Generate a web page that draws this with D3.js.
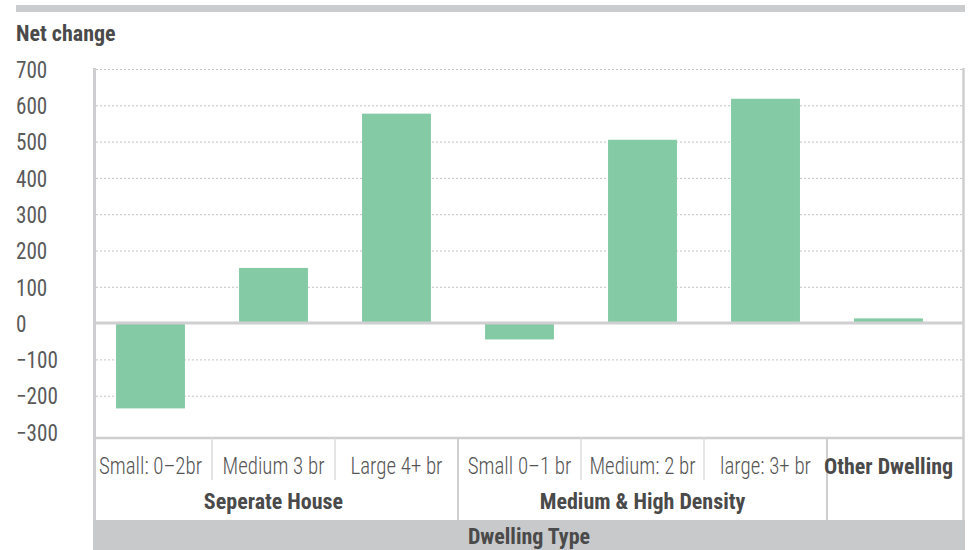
<!DOCTYPE html>
<html>
<head>
<meta charset="utf-8">
<script src="https://cdn.jsdelivr.net/npm/d3@7"></script>
<style>
  html, body { margin: 0; padding: 0; background: #ffffff; }
  svg { display: block; }
  text { font-family: "Roboto Condensed", "Liberation Sans Narrow", "DejaVu Sans Condensed", sans-serif; }
</style>
</head>
<body>
<svg id="chart" width="973" height="550"></svg>
<script>
// ---- data ----
const categories = ["Small: 0–2br", "Medium 3 br", "Large 4+ br", "Small 0–1 br", "Medium: 2 br", "large: 3+ br", "Other Dwelling"];
const groupOf    = ["Seperate House", "Seperate House", "Seperate House", "Medium & High Density", "Medium & High Density", "Medium & High Density", ""];
const values     = [-235, 152, 577, -45, 505, 618, 13];
const yTicks     = [700, 600, 500, 400, 300, 200, 100, 0, -100, -200, -300];
const yTitle     = "Net change";
const xTitle     = "Dwelling Type";

// ---- layout ----
const W = 973, H = 550;
const plotL = 94.5, plotR = 963.5, plotT = 68, yTop = 69, yBot = 432;
const bandL = 89, bandR = 950;
const axisTop = 438, leafBottom = 480, catBottom = 520;
const lineCol = "#cfcfd1", textCol = "#555555", boldCol = "#4a4a4a", barCol = "#84caa4";

const svg = d3.select("#chart");

const x = d3.scaleBand().domain(categories).range([bandL, bandR]).paddingInner(0).paddingOuter(0);
const xBar = d3.scaleBand().domain(categories).range([bandL, bandR]).paddingInner(0.44).paddingOuter(0.22);
const y = d3.scaleLinear().domain([-300, 700]).range([yBot, yTop]);

// top decorative bar
svg.append("rect").attr("x", 16).attr("y", 5).attr("width", 949).attr("height", 7).attr("fill", "#cbccce");

// title
svg.append("text").attr("x", 16).attr("y", 41).attr("font-size", 22).attr("font-weight", "bold")
  .attr("fill", boldCol).text(yTitle);

// gridlines
const grid = svg.append("g").attr("transform", `translate(${plotL + 1.5},0)`)
  .call(d3.axisRight(y).tickValues(yTicks.filter(v => v !== 0 && v !== -300)).tickSize(plotR - plotL - 3).tickFormat(""));
grid.select(".domain").remove();
grid.selectAll(".tick line").attr("stroke", "#c4c4c4").attr("stroke-width", 1).attr("stroke-dasharray", "2,2");

// y tick labels (left-aligned)
const yAx = svg.append("g").attr("transform", "translate(16,0)")
  .call(d3.axisLeft(y).tickValues(yTicks).tickSize(0).tickPadding(0).tickFormat(d3.format("d")));
yAx.select(".domain").remove();
yAx.selectAll(".tick text").attr("text-anchor", "start").attr("x", 0).attr("dy", "0.36em")
  .attr("font-size", 23).attr("font-weight", 400).attr("fill", "#5a5a5a").attr("font-family", null)
  .attr("transform", "scale(0.92,1)");

// bars
svg.append("g").selectAll("rect").data(values).join("rect")
  .attr("x", (d, i) => xBar(categories[i]))
  .attr("width", xBar.bandwidth())
  .attr("y", d => y(Math.max(0, d)))
  .attr("height", d => Math.abs(y(d) - y(0)))
  .attr("fill", barCol);

// zero line
svg.append("line").attr("x1", plotL).attr("x2", plotR).attr("y1", y(0)).attr("y2", y(0))
  .attr("stroke", lineCol).attr("stroke-width", 3);

// plot bottom / category axis top
svg.append("line").attr("x1", plotL).attr("x2", plotR).attr("y1", axisTop).attr("y2", axisTop)
  .attr("stroke", lineCol).attr("stroke-width", 2.5);

// left and right frame
svg.append("line").attr("x1", plotL).attr("x2", plotL).attr("y1", plotT).attr("y2", catBottom)
  .attr("stroke", lineCol).attr("stroke-width", 3);
svg.append("line").attr("x1", plotR).attr("x2", plotR).attr("y1", plotT).attr("y2", catBottom)
  .attr("stroke", lineCol).attr("stroke-width", 2.5);

// category dividers
categories.forEach((c, i) => {
  if (i === 0) return;
  const xb = x(c);
  const sameGroup = groupOf[i] !== "" && groupOf[i] === groupOf[i - 1];
  svg.append("line").attr("x1", xb).attr("x2", xb).attr("y1", axisTop)
    .attr("y2", sameGroup ? leafBottom : catBottom)
    .attr("stroke", sameGroup ? "#dcdcdc" : lineCol).attr("stroke-width", sameGroup ? 1.5 : 2);
});

// leaf labels
svg.append("g").selectAll("text").data(categories).join("text")
  .attr("transform", d => `translate(${x(d) + x.bandwidth() / 2},474)`)
  .attr("text-anchor", "middle")
  .attr("font-size", (d, i) => groupOf[i] === "" ? 22 : 23)
  .attr("font-weight", (d, i) => groupOf[i] === "" ? "bold" : 300)
  .attr("fill", (d, i) => groupOf[i] === "" ? boldCol : textCol)
  .text(d => d)
  .filter((d, i) => groupOf[i] !== "")
  .attr("transform", d => `translate(${x(d) + x.bandwidth() / 2},474) scale(0.91,1)`);

// group labels
const groups = Array.from(new Set(groupOf.filter(g => g !== "")));
groups.forEach(g => {
  const members = categories.filter((c, i) => groupOf[i] === g);
  const gx0 = x(members[0]);
  const gx1 = x(members[members.length - 1]) + x.bandwidth();
  svg.append("text").attr("x", (gx0 + gx1) / 2).attr("y", 509)
    .attr("text-anchor", "middle").attr("font-size", 22).attr("font-weight", "bold")
    .attr("fill", boldCol).text(g);
});

// bottom band with axis title
svg.append("rect").attr("x", plotL - 1.5).attr("y", catBottom).attr("width", plotR - plotL + 3).attr("height", H - catBottom)
  .attr("fill", "#c8c9cb");
svg.append("text").attr("x", (plotL + plotR) / 2).attr("y", 544).attr("text-anchor", "middle")
  .attr("font-size", 22).attr("font-weight", "bold").attr("fill", boldCol).text(xTitle);
</script>
</body>
</html>
